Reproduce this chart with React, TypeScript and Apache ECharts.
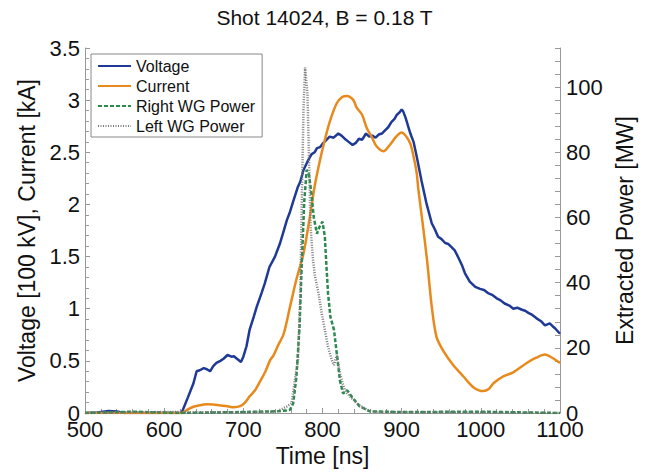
import React, { useEffect, useRef } from "react";
import * as echarts from "echarts";

const titleText = "Shot 14024, B = 0.18 T";
const seriesNames = ["Voltage", "Current", "Right WG Power", "Left WG Power"];

const voltageT = [500, 515, 530, 540, 550, 600, 622, 630, 637, 641, 645, 650, 654, 658, 662, 666, 671, 675, 680, 685, 688, 692, 697, 700, 704, 708, 713, 717, 723, 727, 733, 740, 746, 750, 755, 759, 763, 769, 772, 776, 781, 786, 790, 793, 797, 800, 805, 809, 814, 820, 824, 828, 833, 838, 842, 846, 850, 855, 859, 863, 867, 871, 875, 879, 883, 887, 891, 894, 897, 900, 902, 905, 911, 915, 919, 925, 931, 938, 942, 946, 950, 955, 959, 963, 967, 971, 976, 980, 986, 993, 999, 1004, 1009, 1015, 1020, 1025, 1030, 1036, 1041, 1046, 1052, 1056, 1060, 1065, 1070, 1076, 1081, 1087, 1091, 1094, 1100];
const voltageV = [0, 0.005, 0.02, 0.015, 0, 0, 0, 0.15, 0.285, 0.4, 0.41, 0.43, 0.42, 0.4, 0.45, 0.48, 0.5, 0.52, 0.556, 0.54, 0.545, 0.52, 0.49, 0.54, 0.64, 0.8, 0.92, 1.02, 1.15, 1.24, 1.4, 1.5, 1.62, 1.72, 1.85, 1.93, 2.03, 2.17, 2.22, 2.33, 2.41, 2.48, 2.5, 2.54, 2.55, 2.58, 2.62, 2.65, 2.64, 2.68, 2.66, 2.63, 2.6, 2.57, 2.59, 2.63, 2.62, 2.68, 2.65, 2.66, 2.64, 2.67, 2.68, 2.71, 2.74, 2.79, 2.82, 2.86, 2.88, 2.91, 2.89, 2.83, 2.68, 2.6, 2.46, 2.23, 2.02, 1.82, 1.76, 1.69, 1.67, 1.63, 1.62, 1.59, 1.56, 1.5, 1.42, 1.34, 1.26, 1.21, 1.19, 1.18, 1.15, 1.13, 1.1, 1.08, 1.05, 1.03, 1.0, 1.01, 0.99, 0.98, 0.96, 0.94, 0.91, 0.88, 0.84, 0.86, 0.83, 0.81, 0.76];

const currentT = [500, 622, 630, 637, 645, 654, 662, 670, 680, 688, 696, 702, 708, 715, 721, 728, 734, 738, 744, 751, 759, 767, 776, 784, 790, 797, 803, 809, 818, 825, 831, 839, 843, 850, 856, 862, 868, 877, 885, 893, 900, 906, 911, 915, 919, 921, 926, 932, 938, 944, 953, 965, 978, 990, 1003, 1010, 1016, 1028, 1041, 1058, 1070, 1081, 1090, 1100];
const currentV = [0, 0, 0.035, 0.06, 0.075, 0.083, 0.082, 0.074, 0.065, 0.055, 0.065, 0.1, 0.16, 0.22, 0.3, 0.4, 0.51, 0.55, 0.65, 0.76, 1.02, 1.28, 1.53, 1.88, 2.17, 2.43, 2.62, 2.79, 2.97, 3.03, 3.04, 3.0, 2.93, 2.86, 2.73, 2.65, 2.56, 2.51, 2.57, 2.65, 2.69, 2.65, 2.58, 2.46, 2.3, 2.15, 1.85, 1.47, 1.02, 0.73, 0.59, 0.46, 0.35, 0.25, 0.21, 0.23, 0.285, 0.35, 0.39, 0.48, 0.53, 0.56, 0.53, 0.48];

const rightWgT = [500, 560, 620, 700, 740, 755, 759, 763, 767, 771, 774, 777, 780, 783, 786, 789, 793, 796, 800, 803, 805, 807, 810, 814.5, 819, 822, 826, 831, 837, 847, 860, 900, 1000, 1100];
const rightWgP = [0, 0.4, 0, 0.3, 0.5, 0.8, 1, 3, 11, 26.5, 47, 65, 74.6, 73, 67.4, 60, 55, 57, 58.7, 54, 45, 36.7, 29.5, 25.5, 16.3, 10, 6, 7, 5, 2, 0.5, 0.3, 0.4, 0];

const leftWgT = [500, 600, 700, 742, 755, 761, 765, 769, 772, 774, 776, 778, 781, 783, 785, 788, 790.5, 795, 799, 803, 807, 811.6, 814.5, 818, 822, 828, 835, 843, 856, 868, 1100];
const leftWgP = [0, 0.3, 0.2, 0.4, 2, 3, 10, 16, 36.7, 67, 93, 106, 98, 77.6, 57, 47, 42, 36.7, 30.6, 25.5, 20.3, 16.3, 14.7, 17.8, 12.2, 7, 5, 3, 1, 0.3, 0];

const pairs = (t: number[], v: number[]) => t.map((x, i) => [x, v[i]]);

const FONT = "'Liberation Sans', Arial, Helvetica, sans-serif";
const AXIS_COLOR = "#999";
const TEXT_COLOR = "#111";

export default function App() {
  const ref = useRef<HTMLDivElement>(null);
  useEffect(() => {
    if (!ref.current) return;
    const chart = echarts.init(ref.current, null, { renderer: "svg" });
    const tickStyle = { color: AXIS_COLOR, width: 1 };
    chart.setOption({
      animation: false,
      backgroundColor: "#fff",
      textStyle: { fontFamily: FONT },
      title: {
        text: titleText,
        left: "center",
        top: 2,
        textStyle: { fontSize: 21, fontWeight: "normal", color: TEXT_COLOR, fontFamily: FONT },
      },
      legend: {
        orient: "vertical",
        left: 91,
        top: 54,
        padding: [4, 7, 3, 6],
        itemWidth: 33,
        itemHeight: 14,
        itemGap: 4,
        borderColor: "#888",
        borderWidth: 1,
        backgroundColor: "#fff",
        itemStyle: { opacity: 0 },
        textStyle: { fontSize: 16, color: TEXT_COLOR, lineHeight: 16, fontFamily: FONT },
        data: seriesNames,
      },
      grid: { left: 85, right: 89, top: 48, bottom: 61 },
      xAxis: {
        type: "value",
        min: 500,
        max: 1100,
        interval: 100,
        name: "Time [ns]",
        nameLocation: "middle",
        nameGap: 29,
        nameTextStyle: { fontSize: 23, color: TEXT_COLOR, fontFamily: FONT },
        axisLine: { show: true, lineStyle: tickStyle },
        axisTick: { show: true, inside: true, length: 5, lineStyle: tickStyle },
        minorTick: { show: true, splitNumber: 5, length: 4, lineStyle: tickStyle },
        axisLabel: {
          fontSize: 22,
          color: TEXT_COLOR,
          margin: 5,
          fontFamily: FONT,
          formatter: (v: number) => String(Math.round(v)),
        },
        splitLine: { show: false },
      },
      yAxis: [
        {
          type: "value",
          position: "left",
          min: 0,
          max: 3.5,
          interval: 0.5,
          name: "Voltage [100 kV], Current [kA]",
          nameLocation: "middle",
          nameGap: 47,
          nameRotate: 90,
          nameTextStyle: { fontSize: 23, color: TEXT_COLOR, fontFamily: FONT },
          axisLine: { show: true, lineStyle: tickStyle },
          axisTick: { show: true, inside: true, length: 5, lineStyle: tickStyle },
          minorTick: { show: true, splitNumber: 5, length: 4, lineStyle: tickStyle },
          axisLabel: { fontSize: 22, color: TEXT_COLOR, margin: 5, fontFamily: FONT },
          splitLine: { show: false },
        },
        {
          type: "value",
          position: "right",
          min: 0,
          max: 112,
          interval: 4,
          name: "Extracted Power [MW]",
          nameLocation: "middle",
          nameGap: 51,
          nameRotate: 90,
          nameTextStyle: { fontSize: 23, color: TEXT_COLOR, fontFamily: FONT },
          axisLine: { show: true, lineStyle: tickStyle },
          axisTick: { show: true, inside: true, length: 5, lineStyle: tickStyle },
          axisLabel: {
            fontSize: 22,
            color: TEXT_COLOR,
            margin: 6,
            interval: 0,
            fontFamily: FONT,
            formatter: (v: number) => (Math.round(v) % 20 === 0 && v <= 100 ? String(Math.round(v)) : ""),
          },
          splitLine: { show: false },
        },
      ],
      series: [
        {
          name: "Voltage",
          type: "line",
          yAxisIndex: 0,
          data: pairs(voltageT, voltageV),
          symbol: "none",
          lineStyle: { color: "#1f3996", width: 2.5 },
          itemStyle: { color: "#1f3996" },
        },
        {
          name: "Current",
          type: "line",
          yAxisIndex: 0,
          smooth: 0.3,
          data: pairs(currentT, currentV),
          symbol: "none",
          lineStyle: { color: "#e8891c", width: 2.5 },
          itemStyle: { color: "#e8891c" },
        },
        {
          name: "Right WG Power",
          type: "line",
          yAxisIndex: 1,
          data: pairs(rightWgT, rightWgP),
          symbol: "none",
          lineStyle: { color: "#2b8a4e", width: 2.5, type: [4, 2] },
          itemStyle: { color: "#2b8a4e" },
        },
        {
          name: "Left WG Power",
          type: "line",
          yAxisIndex: 1,
          data: pairs(leftWgT, leftWgP),
          symbol: "none",
          lineStyle: { color: "#7a7a7a", width: 2.5, type: [1, 1.5] },
          itemStyle: { color: "#7a7a7a" },
        },
      ],
    });
    return () => chart.dispose();
  }, []);
  return (
    <div
      ref={ref}
      style={{ position: "fixed", left: 0, top: 0, width: 649, height: 474, background: "#fff" }}
    />
  );
}
